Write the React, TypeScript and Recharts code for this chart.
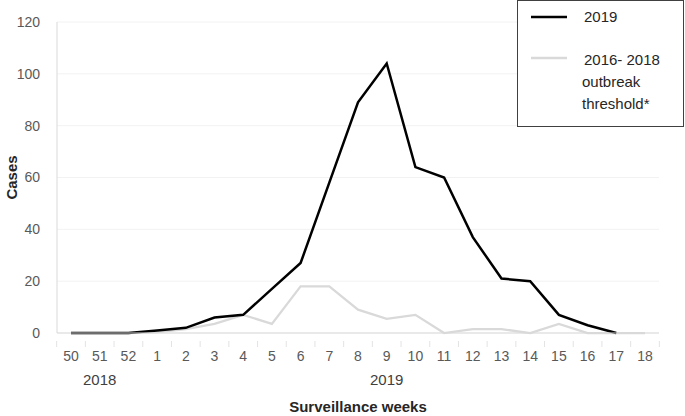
import { CartesianGrid, Line, LineChart, XAxis, YAxis, Label } from "recharts";

if (typeof document !== "undefined") document.body.style.margin = "0";

// surveillance weeks 50/2018 .. 18/2019
const WEEKS = ["50", "51", "52", "1", "2", "3", "4", "5", "6", "7", "8", "9", "10", "11", "12", "13", "14", "15", "16", "17", "18"];
const CASES_2019 = [0, 0, 0, 1, 2, 6, 7, 17, 27, 58, 89, 104, 64, 60, 37, 21, 20, 7, 3, 0, null];
const THRESHOLD = [0, 0, 0, 0.3, 1.5, 3.5, 7, 3.5, 18, 18, 9, 5.5, 7, 0, 1.5, 1.5, 0, 3.5, 0, 0, 0];
const YEAR_LABELS: Record<string, string> = { "51": "2018", "9": "2019" };
const Y_TICKS = [0, 20, 40, 60, 80, 100, 120];

const data = WEEKS.map((w, i) => ({ week: w, y2019: CASES_2019[i], thr: THRESHOLD[i] }));

const FONT = "'Liberation Sans', Arial, sans-serif";
const HALF_BAND = 14.35;

function WeekTick(props: any) {
  const { x, y, payload, index } = props;
  const year = YEAR_LABELS[payload.value];
  const last = index === WEEKS.length - 1;
  return (
    <g>
      <line x1={x - HALF_BAND} x2={x - HALF_BAND} y1={y} y2={y + 6} stroke="#e3e3e3" />
      {last && <line x1={x + HALF_BAND} x2={x + HALF_BAND} y1={y} y2={y + 6} stroke="#e3e3e3" />}
      <text x={x} y={y + 20} textAnchor="middle" fontSize={14} fill="#595959" fontFamily={FONT}>
        {payload.value}
      </text>
      {year && (
        <text x={x} y={y + 44} textAnchor="middle" fontSize={15} fill="#404040" fontFamily={FONT}>
          {year}
        </text>
      )}
    </g>
  );
}

function LegendBox() {
  return (
    <div
      style={{
        position: "absolute",
        left: 517,
        top: 0,
        width: 167,
        height: 127,
        border: "1px solid #404040",
        background: "#fff",
        fontFamily: FONT,
        fontSize: 15,
        color: "#262626",
        boxSizing: "border-box",
      }}
    >
      <svg width={165} height={125} style={{ position: "absolute", left: 0, top: 0 }}>
        <line x1={13} x2={49} y1={16} y2={16} stroke="#000" strokeWidth={2.5} />
        <line x1={13} x2={49} y1={57} y2={57} stroke="#d9d9d9" strokeWidth={2.5} />
      </svg>
      <div style={{ position: "absolute", left: 66, top: 7 }}>2019</div>
      <div style={{ position: "absolute", left: 66, top: 48, lineHeight: "22px" }}>
        2016- 2018
        <div style={{ marginLeft: -2 }}>outbreak</div>
        <div style={{ marginLeft: -2 }}>threshold*</div>
      </div>
    </div>
  );
}

export default function App() {
  return (
    <div style={{ width: 685, height: 416, background: "#fff", position: "relative" }}>
      <LineChart width={685} height={416} data={data} margin={{ top: 22, right: 26, left: 0, bottom: 0 }}>
        <CartesianGrid vertical={false} stroke="#f2f2f2" />
        <XAxis
          dataKey="week"
          interval={0}
          padding={{ left: 14, right: 14 }}
          stroke="#d9d9d9"
          tickLine={false}
          tick={<WeekTick />}
          height={83}
        >
          <Label
            value="Surveillance weeks"
            position="insideBottom"
            offset={4}
            style={{ fontFamily: FONT, fontSize: 15, fontWeight: "bold", fill: "#262626" }}
          />
        </XAxis>
        <YAxis
          domain={[0, 120]}
          ticks={Y_TICKS}
          width={57}
          stroke="#d9d9d9"
          tickLine={false}
          tickMargin={11}
          tick={{ fontSize: 14, fill: "#595959", fontFamily: FONT }}
        >
          <Label
            value="Cases"
            angle={-90}
            position="insideLeft"
            offset={12}
            style={{ fontFamily: FONT, fontSize: 15, fontWeight: "bold", fill: "#262626", textAnchor: "middle" }}
          />
        </YAxis>
        <Line dataKey="thr" stroke="#d9d9d9" strokeWidth={2.25} dot={false} isAnimationActive={false} />
        <Line dataKey="y2019" stroke="#000" strokeWidth={2.5} dot={false} isAnimationActive={false} />
      </LineChart>
      <LegendBox />
    </div>
  );
}
